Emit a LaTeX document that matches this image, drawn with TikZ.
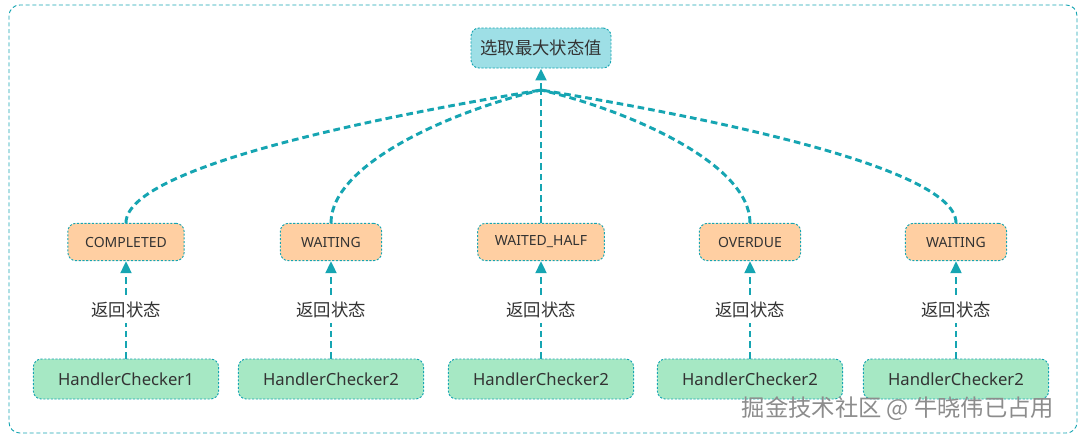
\documentclass[tikz,border=0pt]{standalone}
\usepackage{fontspec}
\setmainfont{Noto Sans}
\newfontfamily\cjk{Noto Sans CJK SC}
\usetikzlibrary{positioning, calc, arrows.meta}

\definecolor{lineteal}{RGB}{22,165,178}
\definecolor{topfill}{RGB}{158,223,230}
\definecolor{statefill}{RGB}{255,207,162}
\definecolor{handfill}{RGB}{166,232,196}

\tikzset{
  box/.style={draw=lineteal, line width=0.7pt, dash pattern=on 1.6pt off 1.2pt,
    rounded corners=6pt, align=center, text=black!80},
  topbox/.style={box, fill=topfill, minimum width=105pt, minimum height=30pt, font=\cjk\fontsize{13}{15}\selectfont},
  statebox/.style={box, fill=statefill, minimum width=76pt, minimum height=28pt, inner xsep=13pt, font=\fontsize{10.5}{12}\selectfont},
  handbox/.style={box, fill=handfill, minimum width=139pt, minimum height=30pt, font=\fontsize{12.5}{14}\selectfont},
  flow/.style={draw=lineteal, line width=2.2pt, dash pattern=on 5pt off 3pt},
  tip/.style={-{Triangle[length=9pt,width=8pt]}},
  lbl/.style={fill=white, inner sep=4pt, text=black!80, font=\cjk\fontsize{13}{15}\selectfont}
}

\begin{document}
\begin{tikzpicture}[x=0.75pt, y=-0.75pt]
    \useasboundingbox (0,0) rectangle (1083,437);
    % Rahmen
    \draw[lineteal, line width=0.7pt, dash pattern=on 3pt off 2pt, rounded corners=8pt] (9,5) rectangle (1077,433);
    % Oben
    \node[topbox] (top) at (541,48) {选取最大状态值};
    \coordinate (join) at (541,90);
    % Checker und Zustaende
    \foreach \i/\x/\st/\hn in {1/126/COMPLETED/HandlerChecker1, 2/331/WAITING/HandlerChecker2,
        3/541/WAITED\_HALF/HandlerChecker2, 4/750/OVERDUE/HandlerChecker2, 5/956/WAITING/HandlerChecker2} {
      \node[statebox] (s\i) at (\x,242) {\st};
      \node[handbox] (h\i) at (\x,379) {\hn};
      \draw[flow, tip] (h\i.north) -- node[lbl] (r\i) {返回状态} (s\i.south);
    }
    % Zusammenfuehren
    \foreach \i/\b in {1/420, 2/455, 4/627, 5/662} {
      \draw[flow] (s\i.north) .. controls ($(s\i.north)+(0,-60)$) and (\b,110) .. (join);
    }
    \draw[flow] (s3.north) -- (join);
    \draw[flow, tip] (join) -- (top.south);
    % Wasserzeichen
    \node[text=black!45, font=\cjk\fontsize{17.5}{20}\selectfont] (wm) at (898,409) {掘金技术社区 @ 牛晓伟已占用};
\end{tikzpicture}
\end{document}
